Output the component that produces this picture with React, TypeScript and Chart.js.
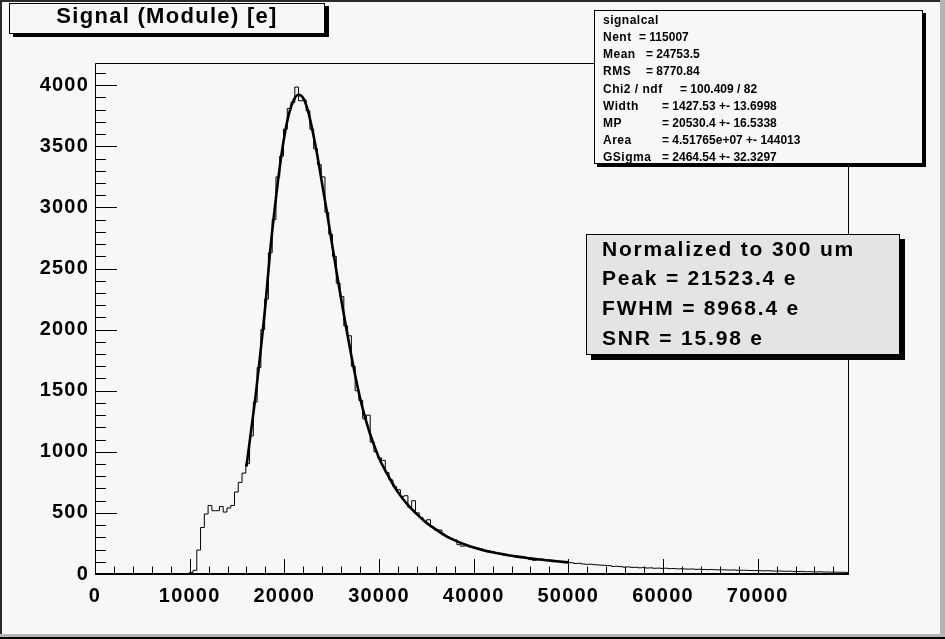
import React, { useEffect, useRef } from "react";
import { Chart, registerables } from "chart.js";

Chart.register(...registerables);

// ---------------- data ----------------
const X_MIN = 0;
const X_MAX = 79650;
const Y_MIN = 0;
const Y_MAX = 4182;

// histogram "signalcal": 200 bins between X_MIN and X_MAX
const binCounts = [
  0, 0, 0, 0, 0, 0, 0, 0, 0, 0,
  0, 0, 0, 0, 0, 0, 0, 0, 0, 0,
  0, 0, 0, 0, 0, 13, 30, 196, 381, 491,
  561, 518, 518, 553, 507, 540, 561, 671, 750, 826,
  903, 1130, 1407, 1690, 2000, 2250, 2630, 2900, 3250, 3420,
  3640, 3810, 3860, 3985, 3873, 3880, 3790, 3640, 3480, 3350,
  3250, 2960, 2780, 2600, 2380, 2270, 2030, 1950, 1700, 1500,
  1420, 1270, 1300, 1080, 1000, 950, 930, 830, 770, 715,
  690, 635, 641, 545, 600, 500, 462, 430, 444, 385,
  360, 360, 320, 305, 292, 280, 240, 228, 232, 222,
  220, 212, 205, 195, 188, 181, 172, 168, 155, 150,
  148, 150, 142, 139, 133, 118, 112, 116, 121, 118,
  114, 110, 108, 104, 99, 95, 92, 86, 88, 82,
  79, 80, 76, 74, 72, 70, 68, 62, 63, 60,
  56, 58, 54, 55, 51, 52, 49, 50, 47, 48,
  46, 47, 44, 45, 42, 43, 41, 40, 41, 38,
  39, 37, 36, 37, 35, 34, 35, 33, 32, 33,
  31, 30, 31, 29, 28, 28, 27, 26, 27, 25,
  24, 25, 23, 22, 23, 21, 20, 21, 19, 19,
  18, 17, 18, 16, 16, 15, 15, 14, 14, 13,
];

// Landau (x) Gauss fit curve
const fitX = [
  16000, 16500, 17000, 17500, 18000, 18500, 19000, 19500, 20000, 20500,
  21000, 21500, 22000, 22500, 23000, 23500, 24000, 24500, 25000, 25500,
  26000, 26500, 27000, 27500, 28000, 28500, 29000, 29500, 30000, 31000,
  32000, 33000, 34000, 35000, 36000, 37000, 38000, 39000, 40000, 41000,
  42000, 43000, 44000, 45000, 46000, 47000, 48000, 49000, 50000,
];
const fitY = [
  880, 1180, 1480, 1830, 2200, 2640, 3000, 3320, 3580, 3770,
  3880, 3922, 3895, 3790, 3620, 3420, 3190, 2960, 2720, 2480,
  2250, 2030, 1820, 1620, 1440, 1290, 1160, 1050, 950, 800,
  670, 570, 490, 420, 365, 315, 275, 243, 216, 195,
  178, 163, 150, 138, 128, 118, 110, 102, 95,
];

const xTickValues = [0, 10000, 20000, 30000, 40000, 50000, 60000, 70000];
const yTickValues = [0, 500, 1000, 1500, 2000, 2500, 3000, 3500, 4000];
const X_MINOR_STEP = 2000;
const Y_MINOR_STEP = 100;

const titleText = "Signal (Module) [e]";
const statsName = "signalcal";
const statLabels = ["Nent", "Mean", "RMS", "Chi2 / ndf", "Width", "MP", "Area", "GSigma"];
const statValues = [
  "115007",
  "24753.5",
  "8770.84",
  "100.409 / 82",
  "1427.53 +- 13.6998",
  "20530.4 +- 16.5338",
  "4.51765e+07 +- 144013",
  "2464.54 +- 32.3297",
];
const noteLines = ["Normalized to 300 um", "Peak = 21523.4 e", "FWHM = 8968.4 e", "SNR = 15.98 e"];

// ---------------- styling ----------------
const FONT = "'Liberation Sans', Helvetica, Arial, sans-serif";
const BG = "#f7f7f7";
const NOTE_BG = "#e4e4e4";
const EDGE_GRAY = "#b4b4b4";
// x positions of the "=" column in the stats box (layout only)
const STAT_EQ_X = [639, 646, 646, 680, 662, 662, 662, 662];

const W = 945;
const H = 639;

function Txt(props: {
  text: string;
  left: number;
  baseline: number;
  size: number;
  spacing: number;
}) {
  const { text, left, baseline, size, spacing } = props;
  return (
    <div
      style={{
        position: "absolute",
        left,
        top: baseline - 0.8465 * size,
        fontFamily: FONT,
        fontWeight: "bold",
        fontSize: size,
        lineHeight: size + "px",
        letterSpacing: spacing,
        whiteSpace: "pre",
        color: "#000",
      }}
    >
      {text}
    </div>
  );
}

const rootFramePlugin = {
  id: "rootFrame",
  beforeDraw(chart: any) {
    const ctx = chart.ctx;
    ctx.save();
    ctx.fillStyle = BG;
    ctx.fillRect(0, 0, chart.width, chart.height);
    ctx.restore();
    (ctx as any).letterSpacing = "1.2px";
  },
  afterDraw(chart: any) {
    const ctx = chart.ctx as CanvasRenderingContext2D;
    const { left, right, top, bottom } = chart.chartArea;
    const xs = chart.scales.x;
    const ys = chart.scales.y;
    ctx.save();
    ctx.strokeStyle = "#000";
    ctx.lineWidth = 1;
    // frame
    ctx.beginPath();
    ctx.moveTo(left + 0.5, bottom);
    ctx.lineTo(left + 0.5, top + 0.5);
    ctx.lineTo(right - 0.5, top + 0.5);
    ctx.lineTo(right - 0.5, bottom);
    ctx.stroke();
    // y ticks
    ctx.beginPath();
    for (let v = Y_MIN; v <= Y_MAX; v += Y_MINOR_STEP) {
      const py = Math.round(ys.getPixelForValue(v)) + 0.5;
      const len = v % 500 === 0 ? 22 : 11;
      ctx.moveTo(left, py);
      ctx.lineTo(left + len, py);
    }
    // x ticks
    for (let v = X_MIN; v <= X_MAX; v += X_MINOR_STEP) {
      const px = Math.round(xs.getPixelForValue(v)) + 0.5;
      const len = v % 10000 === 0 ? 15 : 7.5;
      ctx.moveTo(px, bottom);
      ctx.lineTo(px, bottom - len);
    }
    ctx.stroke();
    // x axis line
    ctx.lineWidth = 2;
    ctx.beginPath();
    ctx.moveTo(left, bottom);
    ctx.lineTo(right, bottom);
    ctx.stroke();
    ctx.restore();
  },
};

export default function App() {
  const canvasRef = useRef<HTMLCanvasElement | null>(null);

  useEffect(() => {
    const canvas = canvasRef.current;
    if (!canvas) return;
    const binWidth = (X_MAX - X_MIN) / binCounts.length;
    const histPoints = binCounts.map((c, k) => ({ x: X_MIN + k * binWidth, y: c }));
    histPoints.push({ x: X_MAX, y: binCounts[binCounts.length - 1] });
    const fitPoints = fitX.map((x, i) => ({ x, y: fitY[i] }));

    const tickFont = { family: FONT, weight: "bold" as const, size: 20 };

    const chart = new Chart(canvas, {
      type: "line",
      data: {
        datasets: [
          {
            label: "fit",
            data: fitPoints,
            borderColor: "#000",
            borderWidth: 2.6,
            pointRadius: 0,
            cubicInterpolationMode: "monotone",
            fill: false,
          },
          {
            label: "signalcal",
            data: histPoints,
            borderColor: "#000",
            borderWidth: 1,
            pointRadius: 0,
            stepped: "before",
            fill: false,
          },
        ],
      },
      options: {
        animation: false,
        responsive: false,
        events: [],
        layout: { padding: { left: 0, top: 63, right: 96, bottom: 0 } },
        plugins: {
          legend: { display: false },
          tooltip: { enabled: false },
          title: { display: false },
        },
        scales: {
          x: {
            type: "linear",
            min: X_MIN,
            max: X_MAX,
            grid: { display: false, drawTicks: false },
            border: { display: false },
            afterBuildTicks: (s: any) => {
              s.ticks = xTickValues.map((v) => ({ value: v }));
            },
            afterFit: (s: any) => {
              s.height = 65;
            },
            ticks: {
              autoSkip: false,
              maxRotation: 0,
              minRotation: 0,
              padding: 10,
              color: "#000",
              font: tickFont,
              callback: (v: any) => String(v),
            },
          },
          y: {
            type: "linear",
            min: Y_MIN,
            max: Y_MAX,
            grid: { display: false, drawTicks: false },
            border: { display: false },
            afterBuildTicks: (s: any) => {
              s.ticks = yTickValues.map((v) => ({ value: v }));
            },
            afterFit: (s: any) => {
              s.width = 95;
            },
            ticks: {
              autoSkip: false,
              padding: 6,
              color: "#000",
              font: tickFont,
              callback: (v: any) => String(v),
            },
          },
        },
      },
      plugins: [rootFramePlugin],
    });
    return () => chart.destroy();
  }, []);

  const statBase0 = 24;
  const statStep = 17.2;
  const noteBase0 = 255.5;
  const noteStep = 29.7;

  return (
    <div
      style={{
        position: "fixed",
        left: 0,
        top: 0,
        width: W,
        height: H,
        overflow: "hidden",
        background: BG,
      }}
    >
      <canvas ref={canvasRef} width={W} height={H} style={{ position: "absolute", left: 0, top: 0, width: W, height: H }} />

      {/* canvas edges */}
      <div style={{ position: "absolute", left: 0, top: 0, width: W, height: 2, background: "#2a2a2a" }} />
      <div style={{ position: "absolute", left: 0, top: 0, width: 2, height: H, background: "#2a2a2a" }} />
      <div style={{ position: "absolute", left: W - 5, top: 0, width: 5, height: H, background: EDGE_GRAY }} />
      <div style={{ position: "absolute", left: 0, top: H - 5, width: W, height: 3, background: EDGE_GRAY }} />
      <div style={{ position: "absolute", left: 0, top: H - 2, width: W, height: 2, background: "#000" }} />

      {/* title box */}
      <div
        style={{
          position: "absolute",
          left: 9,
          top: 3,
          width: 314,
          height: 29,
          border: "1px solid #000",
          background: BG,
          boxShadow: "4px 3px 0 0 #000",
        }}
      />
      <div
        style={{
          position: "absolute",
          left: 9,
          top: 23.3 - 0.8465 * 22,
          width: 316,
          textAlign: "center",
          fontFamily: FONT,
          fontWeight: "bold",
          fontSize: 22,
          lineHeight: "22px",
          letterSpacing: 1.3,
          whiteSpace: "pre",
        }}
      >
        {titleText}
      </div>

      {/* stats box */}
      <div
        style={{
          position: "absolute",
          left: 594,
          top: 10,
          width: 327,
          height: 152,
          border: "1px solid #000",
          background: BG,
          boxShadow: "3px 3px 0 0 #000",
        }}
      />
      <Txt text={statsName} left={603} baseline={statBase0} size={12} spacing={0.5} />
      {statLabels.map((lab, i) => (
        <React.Fragment key={lab}>
          <Txt text={lab} left={603} baseline={statBase0 + statStep * (i + 1)} size={12} spacing={0.5} />
          <Txt
            text={"= " + statValues[i]}
            left={STAT_EQ_X[i]}
            baseline={statBase0 + statStep * (i + 1)}
            size={12}
            spacing={0}
          />
        </React.Fragment>
      ))}

      {/* note box */}
      <div
        style={{
          position: "absolute",
          left: 586,
          top: 234,
          width: 312,
          height: 119,
          border: "1px solid #000",
          background: NOTE_BG,
          boxShadow: "5px 5px 0 0 #000",
        }}
      />
      {noteLines.map((t, i) => (
        <Txt key={t} text={t} left={602} baseline={noteBase0 + noteStep * i} size={21} spacing={1.8} />
      ))}
    </div>
  );
}
